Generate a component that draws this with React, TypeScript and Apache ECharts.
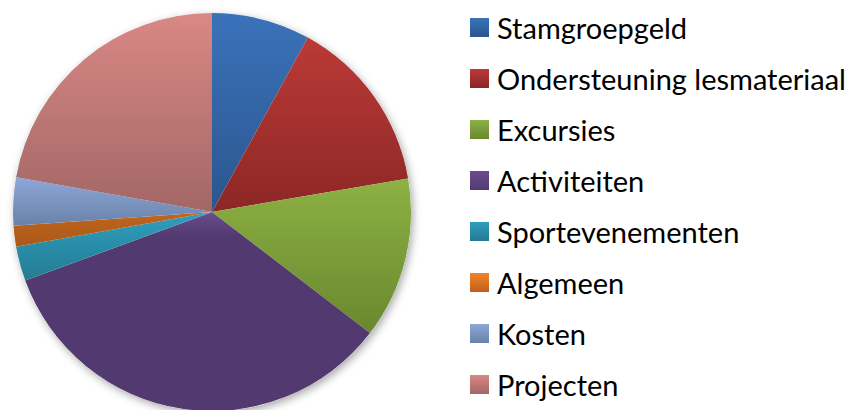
import React, { useEffect, useRef } from "react";
import * as echarts from "echarts";

const categories = [
  "Stamgroepgeld",
  "Ondersteuning lesmateriaal",
  "Excursies",
  "Activiteiten",
  "Sportevenementen",
  "Algemeen",
  "Kosten",
  "Projecten",
];
const values = [8.0, 14.3, 13.1, 34.0, 2.8, 1.7, 3.9, 22.2];
const topColors = ["#3a72ba", "#bb3a37", "#8db143", "#6c4c8e", "#2f9fc0", "#c0661e", "#8ca8d8", "#d98885"];
const bottomColors = ["#2b568e", "#8c2725", "#69882f", "#523a70", "#237b90", "#ab5818", "#6a82a9", "#a26765"];
const midStops = [0, 0, 0, 0.12, 0, 0, 0, 0];
const legendTop = ["#3a72ba", "#bb3a37", "#8db143", "#6c4c8e", "#2f9fc0", "#f0842c", "#8ca8d8", "#d98885"];
const legendBottom = ["#2b568e", "#8c2725", "#69882f", "#523a70", "#237b90", "#c0601a", "#6a82a9", "#a26765"];

export default function App() {
  const ref = useRef<HTMLDivElement>(null);
  useEffect(() => {
    if (!ref.current) return;
    const chart = echarts.init(ref.current, null, { renderer: "svg" });
    const grad = (i: number) =>
      new echarts.graphic.LinearGradient(0, 0, 0, 1, [
        { offset: 0, color: topColors[i] },
        { offset: midStops[i] > 0 ? midStops[i] : 1, color: bottomColors[i] },
        { offset: 1, color: bottomColors[i] },
      ]);
    const lgrad = (i: number) =>
      new echarts.graphic.LinearGradient(0, 0, 0, 1, [
        { offset: 0, color: legendTop[i] },
        { offset: 1, color: legendBottom[i] },
      ]);
    chart.setOption({
      animation: false,
      legend: {
        orient: "vertical",
        left: 470,
        top: 2,
        height: 420,
        padding: 0,
        itemWidth: 19,
        itemHeight: 19,
        itemGap: 0,
        icon: "rect",
        selectedMode: false,
        data: categories.map((name, i) => ({ name, itemStyle: { color: lgrad(i) } })),
        textStyle: {
          fontFamily: "Lato",
          fontSize: 29,
          color: "#000",
          lineHeight: 51,
          padding: [0, 0, 0, 3],
        },
      },
      series: [
        {
          type: "pie",
          silent: true,
          center: [212, 212],
          radius: 199,
          label: { show: false },
          labelLine: { show: false },
          data: [
            {
              value: 1,
              name: "",
              itemStyle: {
                color: "#ffffff",
                shadowBlur: 8,
                shadowColor: "rgba(0,0,0,0.35)",
                shadowOffsetX: 2,
                shadowOffsetY: 3,
              },
            },
          ],
          z: 1,
        },
        {
          type: "pie",
          center: [212, 212],
          radius: 199,
          startAngle: 90,
          clockwise: true,
          label: { show: false },
          labelLine: { show: false },
          z: 2,
          data: categories.map((name, i) => ({
            name,
            value: values[i],
            itemStyle: { color: grad(i), borderWidth: 0 },
          })),
        },
      ],
    });
    return () => chart.dispose();
  }, []);
  return (
    <div
      ref={ref}
      style={{ position: "absolute", left: 0, top: 0, width: 859, height: 410, background: "#fff" }}
    />
  );
}
